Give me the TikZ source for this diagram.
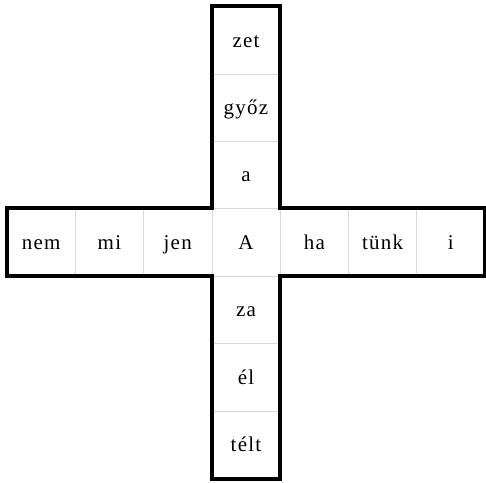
\documentclass[tikz,border=0pt]{standalone}
\usepackage{fontspec}
\setmainfont{Liberation Serif}[LetterSpace=6]
\begin{document}
\begin{tikzpicture}[x=1pt,y=-1pt,
  cell/.style={draw=gray!30, line width=0.6pt, minimum width=68.3pt, minimum height=67.4pt,
    inner sep=0pt, font=\fontsize{21}{24}\selectfont, text height=14pt, text depth=0pt, anchor=center},
  outline/.style={line width=4pt, line join=miter, draw=black}]
\useasboundingbox (0,0) rectangle (486,482);
% vertical column
\node[cell] (v1) at (246,40.1) {zet};
\node[cell] (v2) at (246,107.5) {győz};
\node[cell] (v3) at (246,174.9) {a};
\node[cell] (cA) at (246,242.3) {A};
\node[cell] (v5) at (246,309.7) {za};
\node[cell] (v6) at (246,377.1) {él};
\node[cell] (v7) at (246,444.5) {télt};
% horizontal row
\node[cell] (h1) at (41.1,242.3) {nem};
\node[cell] (h2) at (109.4,242.3) {mi};
\node[cell] (h3) at (177.7,242.3) {jen};
\node[cell] (h5) at (314.3,242.3) {ha};
\node[cell] (h6) at (382.6,242.3) {tünk};
\node[cell] (h7) at (450.9,242.3) {i};
% cross outline
\draw[outline] (v1.north west) -- (v1.north east) -- (cA.north east) -- (h7.north east)
  -- (h7.south east) -- (cA.south east) -- (v7.south east) -- (v7.south west)
  -- (cA.south west) -- (h1.south west) -- (h1.north west) -- (cA.north west) -- cycle;
\end{tikzpicture}
\end{document}
